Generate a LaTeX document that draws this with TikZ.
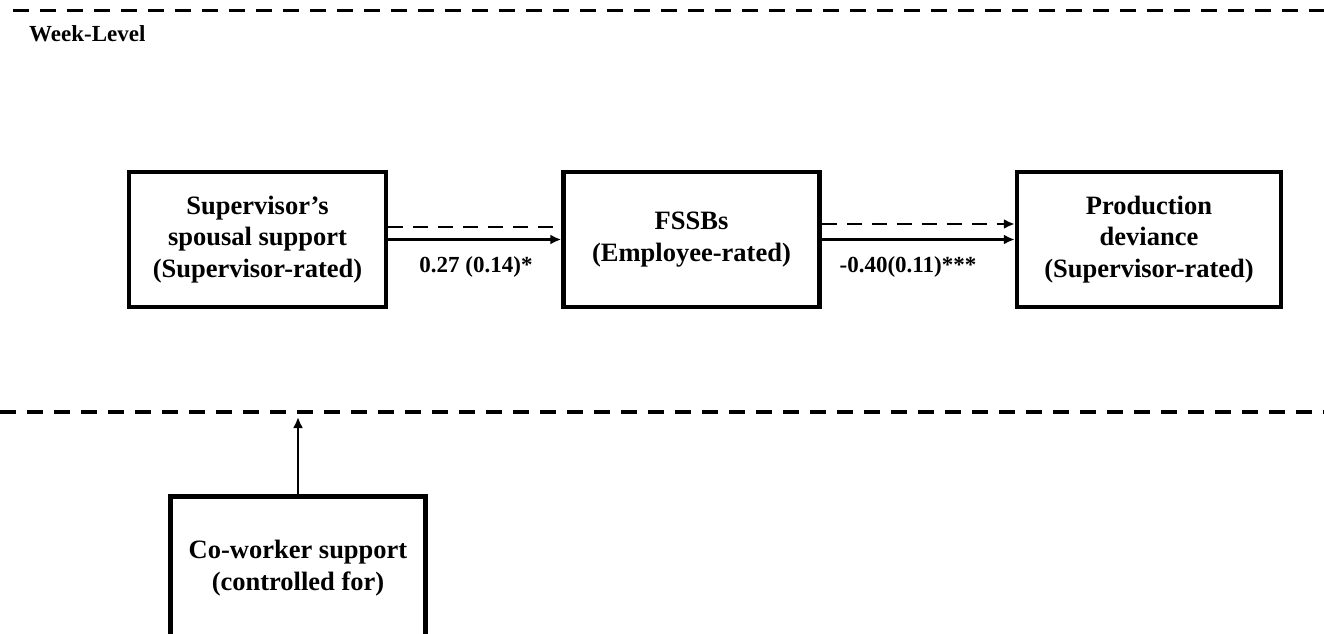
\documentclass[tikz,border=0pt]{standalone}
\usepackage{fontspec}
\setmainfont{Liberation Serif}
\usetikzlibrary{positioning,arrows.meta,calc}

\begin{document}
\begin{tikzpicture}[
  x=1pt,y=1pt,
  font=\fontsize{26.5}{31.5}\selectfont\bfseries,
  >={Latex[length=11pt,width=10pt]},
  % --- shared look ---
  var/.style    ={draw=black,line width=4.5pt,align=center,inner sep=4pt,
                  minimum width=257pt,minimum height=135pt},
  level/.style  ={draw=black,line width=3.5pt,dash pattern=on 16pt off 11pt},
  path/.style   ={->,line width=2.5pt,draw=black},
  dpath/.style  ={line width=2.5pt,draw=black,dash pattern=on 15pt off 10pt},
  coef/.style   ={font=\fontsize{23}{27}\selectfont\bfseries,inner sep=0pt},
]
\useasboundingbox (0,0) rectangle (1324,633);
\clip (0,0) rectangle (1324,633);

% ============================ level boundaries =============================
\coordinate (topl) at (13,622.5);
\coordinate (topr) at (1324,622.5);
\coordinate (botl) at (0,221);
\coordinate (botr) at (1324,221);
\draw[level] (topl) -- (topr);
\draw[level] (botl) -- (botr);
\node[coef,anchor=base west] (week) at (29,591) {Week-Level};

% ============================ week-level model =============================
\node[var] (spouse) at (257.5,393.5)
  {Supervisor's\\spousal support\\(Supervisor-rated)};
\node[var,right=173pt of spouse,minimum width=256pt] (fssb)
  {FSSBs\\(Employee-rated)};
\node[var,right=193pt of fssb,minimum width=264pt] (dev)
  {Production\\deviance\\(Supervisor-rated)};

% ================================ paths ====================================
\draw[dpath] ($(spouse.east)+(0,12.5)$) -- ($(fssb.west)+(0,12.5)$);
\draw[path]  (spouse.east) -- (fssb.west);
\draw[dpath,->] ($(fssb.east)+(0,15.5)$) -- ($(dev.west)+(0,15.5)$);
\draw[path]  (fssb.east) -- (dev.west);
\node[coef,anchor=base] (c1) at (476,361) {0.27 (0.14)*};
\node[coef,anchor=base] (c2) at (908,361) {-0.40(0.11)***};

% ============================== control ====================================
\node[var,minimum width=255pt,minimum height=143pt] (cow) at (298,65)
  {Co-worker support\\(controlled for)};
\coordinate (ctip) at (cow.north |- 0,216);
\draw[path] (cow.north) -- (ctip);

\end{tikzpicture}
\end{document}
